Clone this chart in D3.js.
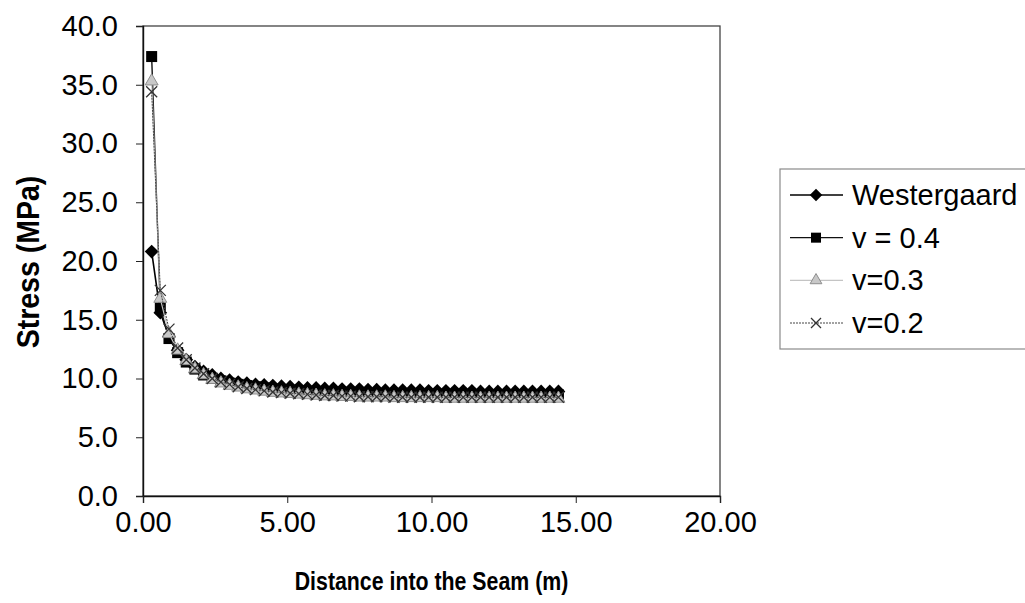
<!DOCTYPE html>
<html>
<head>
<meta charset="utf-8">
<script src="https://cdn.jsdelivr.net/npm/d3@7"></script>
<style>
  body { margin: 0; background: #fff; }
  text { font-family: Arial, "Liberation Sans", sans-serif; fill: #000; }
</style>
</head>
<body>
<div id="chart"></div>
<script>
// distance into the seam (m)
var distance = [0.3, 0.6, 0.9, 1.2, 1.5, 1.8, 2.1, 2.4, 2.7, 3.0, 3.3, 3.6, 3.9, 4.2, 4.5, 4.8,
  5.1, 5.4, 5.7, 6.0, 6.3, 6.6, 6.9, 7.2, 7.5, 7.8, 8.1, 8.4, 8.7, 9.0, 9.3, 9.6,
  9.9, 10.2, 10.5, 10.8, 11.1, 11.4, 11.7, 12.0, 12.3, 12.6, 12.9, 13.2, 13.5, 13.8, 14.1, 14.4];

// stress (MPa)
var westergaard = [20.8, 15.6, 13.6, 12.4, 11.6, 11.0, 10.6, 10.3, 10.0, 9.85, 9.7, 9.6, 9.5, 9.45, 9.4, 9.35,
  9.3, 9.25, 9.2, 9.2, 9.15, 9.15, 9.1, 9.1, 9.1, 9.05, 9.05, 9.0, 9.0, 9.0, 9.0, 9.0,
  8.95, 8.95, 8.95, 8.95, 8.95, 8.95, 8.9, 8.9, 8.9, 8.9, 8.9, 8.9, 8.9, 8.9, 8.9, 8.9];
var v04 = [37.4, 16.0, 13.4, 12.2, 11.4, 10.8, 10.3, 10.0, 9.8, 9.6, 9.5, 9.4, 9.3, 9.2, 9.1, 9.05,
  9.0, 8.95, 8.9, 8.85, 8.8, 8.8, 8.75, 8.75, 8.7, 8.7, 8.7, 8.65, 8.65, 8.65, 8.65, 8.6,
  8.6, 8.6, 8.6, 8.6, 8.6, 8.6, 8.6, 8.6, 8.6, 8.6, 8.6, 8.6, 8.6, 8.6, 8.6, 8.6];
var v03 = [35.3, 16.8, 13.8, 12.4, 11.5, 10.8, 10.3, 9.9, 9.6, 9.4, 9.25, 9.1, 9.0, 8.9, 8.8, 8.75,
  8.7, 8.65, 8.6, 8.55, 8.5, 8.5, 8.45, 8.45, 8.4, 8.4, 8.4, 8.4, 8.35, 8.35, 8.35, 8.35,
  8.35, 8.35, 8.3, 8.3, 8.3, 8.3, 8.3, 8.3, 8.3, 8.3, 8.3, 8.3, 8.3, 8.3, 8.3, 8.3];
var v02 = [34.4, 17.5, 14.2, 12.6, 11.6, 10.9, 10.4, 10.0, 9.7, 9.5, 9.3, 9.15, 9.05, 8.95, 8.85, 8.8,
  8.75, 8.7, 8.65, 8.6, 8.55, 8.55, 8.5, 8.5, 8.45, 8.45, 8.45, 8.45, 8.4, 8.4, 8.4, 8.4,
  8.4, 8.4, 8.4, 8.4, 8.4, 8.4, 8.4, 8.4, 8.4, 8.4, 8.4, 8.4, 8.4, 8.4, 8.4, 8.4];

var seriesNames = ["Westergaard", "v = 0.4", "v=0.3", "v=0.2"];
var seriesValues = [westergaard, v04, v03, v02];

var xTicks = [0, 5, 10, 15, 20];
var yTicks = [0, 5, 10, 15, 20, 25, 30, 35, 40];

var width = 1025, height = 603;
var plot = {left: 143, right: 720, top: 26, bottom: 496};

var svg = d3.select("#chart").append("svg")
  .attr("width", width)
  .attr("height", height);

var x = d3.scaleLinear().domain([0, 20]).range([plot.left, plot.right]);
var y = d3.scaleLinear().domain([0, 40]).range([plot.bottom, plot.top]);

// plot frame (top / right edges are lighter in the scan)
svg.append("rect")
  .attr("x", plot.left).attr("y", plot.top)
  .attr("width", plot.right - plot.left).attr("height", plot.bottom - plot.top)
  .attr("fill", "none").attr("stroke", "#444").attr("stroke-width", 1.3);

// axes
var yAxis = svg.append("g")
  .attr("transform", "translate(" + plot.left + ",0)")
  .call(d3.axisLeft(y).tickValues(yTicks).tickFormat(d3.format(".1f")).tickSize(7).tickPadding(18));
var xAxis = svg.append("g")
  .attr("transform", "translate(0," + plot.bottom + ")")
  .call(d3.axisBottom(x).tickValues(xTicks).tickFormat(d3.format(".2f")).tickSize(7).tickPadding(8));

[yAxis, xAxis].forEach(function(a) {
  a.select(".domain").attr("stroke", "#111").attr("stroke-width", 1.4);
  a.selectAll(".tick line").attr("stroke", "#222");
  a.selectAll(".tick text")
    .style("font-family", "Arial, 'Liberation Sans', sans-serif")
    .style("font-size", "29px")
    .attr("fill", "#000");
});

// axis titles
svg.append("text")
  .attr("transform", "translate(" + (plot.left + plot.right) / 2 + ",590) scale(0.82,1)")
  .attr("text-anchor", "middle")
  .style("font-size", "26px")
  .style("font-weight", "bold")
  .text("Distance into the Seam (m)");

svg.append("text")
  .attr("transform", "translate(39,262) rotate(-90) scale(0.92,1)")
  .attr("text-anchor", "middle")
  .style("font-size", "31px")
  .style("font-weight", "bold")
  .text("Stress (MPa)");

// series styles
var styles = [
  {line: "#000", width: 1.6, dash: null, marker: "diamond"},
  {line: "#111", width: 1.4, dash: null, marker: "square"},
  {line: "#c4c4c4", width: 1.2, dash: null, marker: "triangle"},
  {line: "#444", width: 1.0, dash: "2,1", marker: "cross"}
];

function drawMarker(g, type, size) {
  if (type === "diamond") {
    g.append("path")
      .attr("d", d3.symbol().type(d3.symbolDiamond2).size(size * size)())
      .attr("fill", "#000");
  } else if (type === "square") {
    g.append("rect")
      .attr("x", -size / 2).attr("y", -size / 2)
      .attr("width", size).attr("height", size)
      .attr("fill", "#000");
  } else if (type === "triangle") {
    g.append("path")
      .attr("d", d3.symbol().type(d3.symbolTriangle).size(size * size * 0.6)())
      .attr("fill", "#c8c8c8").attr("stroke", "#8e8e8e").attr("stroke-width", 1);
  } else {
    var h = size / 2;
    g.append("path")
      .attr("d", "M" + (-h) + "," + (-h) + "L" + h + "," + h + "M" + (-h) + "," + h + "L" + h + "," + (-h))
      .attr("fill", "none").attr("stroke", "#333").attr("stroke-width", 1.3);
  }
}

var line = d3.line()
  .x(function(d) { return x(d[0]); })
  .y(function(d) { return y(d[1]); });

seriesValues.forEach(function(vals, i) {
  var pts = distance.map(function(d, j) { return [d, vals[j]]; });
  var g = svg.append("g");
  g.append("path")
    .datum(pts)
    .attr("d", line)
    .attr("fill", "none")
    .attr("stroke", styles[i].line)
    .attr("stroke-width", styles[i].width)
    .attr("stroke-dasharray", styles[i].dash);
  g.selectAll("g.m")
    .data(pts)
    .enter().append("g")
    .attr("class", "m")
    .attr("transform", function(d) { return "translate(" + x(d[0]) + "," + y(d[1]) + ")"; })
    .each(function() { drawMarker(d3.select(this), styles[i].marker, 11); });
});

// legend
var legend = svg.append("g");
legend.append("rect")
  .attr("x", 780).attr("y", 169)
  .attr("width", 260).attr("height", 180)
  .attr("fill", "none").attr("stroke", "#8a8a8a").attr("stroke-width", 1.2);

var legendY = d3.scalePoint().domain(seriesNames).range([195, 323]);

seriesNames.forEach(function(name, i) {
  var ly = legendY(name);
  var item = legend.append("g");
  item.append("line")
    .attr("x1", 790).attr("x2", 843)
    .attr("y1", ly).attr("y2", ly)
    .attr("stroke", styles[i].line)
    .attr("stroke-width", styles[i].width)
    .attr("stroke-dasharray", styles[i].dash);
  var mg = item.append("g").attr("transform", "translate(816," + ly + ")");
  drawMarker(mg, styles[i].marker, 10);
  item.append("text")
    .attr("x", 852).attr("y", ly)
    .attr("dy", "0.35em")
    .style("font-size", "29px")
    .text(name);
});
</script>
</body>
</html>
